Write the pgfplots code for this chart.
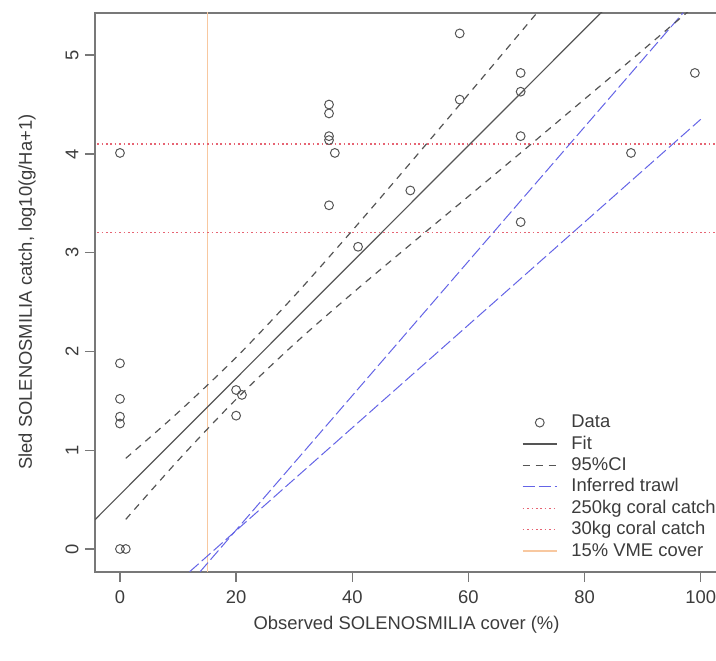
\documentclass[border=0pt]{standalone}
\usepackage{pgfplots}
\pgfplotsset{compat=1.18}
\usepackage{fontspec}
\setmainfont{Liberation Sans}
\definecolor{ptcol}{RGB}{85,85,85}
\definecolor{boxcol}{RGB}{120,120,120}
\definecolor{txtcol}{RGB}{60,60,60}
\definecolor{trawl}{RGB}{100,100,230}
\definecolor{redl}{RGB}{230,100,115}
\definecolor{orng}{RGB}{248,200,160}
\begin{document}
\fontsize{9.2}{11}\selectfont
\begin{tikzpicture}
\useasboundingbox (0,0) rectangle (358pt,330pt);
\begin{axis}[
  at={(47.5pt,44.15pt)}, anchor=south west,
  scale only axis, width=311.55pt, height=279.5pt,
  xmin=-4.3, xmax=103, ymin=-0.23, ymax=5.43,
  xtick={0,20,40,60,80,100}, ytick={0,1,2,3,4,5},
  tick align=outside, major tick length=5pt,
  axis line style={boxcol, line width=0.9pt},
  tick style={boxcol, line width=0.7pt},
  xtick pos=bottom, ytick pos=left,
  /pgf/number format/assume math mode=true,
  ticklabel style={font=\fontsize{9.2}{11}\selectfont, text=txtcol},
  yticklabel style={rotate=90, anchor=south},
  xticklabel style={yshift=-1pt},
  xlabel={Observed SOLENOSMILIA cover (\%)},
  ylabel={Sled SOLENOSMILIA catch, log10(g/Ha+1)},
  ylabel style={xshift=0pt, yshift=8.5pt},
  label style={font=\fontsize{9.2}{11}\selectfont, text=txtcol},
  clip=true,
  legend cell align=left,
  legend style={draw=none, fill=none, at={(0.6848,0.2853)}, anchor=north west,
    inner sep=0pt, row sep=0.7pt, column sep=7pt,
    font=\fontsize{9.2}{11}\selectfont,
    nodes={inner sep=0pt, text height=7.5pt, text depth=2.5pt}},
]
% legend entries
\addlegendimage{only marks, mark=o, mark size=2.2pt, draw=ptcol, mark options={line width=0.5pt}}
\addlegendentry{\textcolor{txtcol}{Data}}
\addlegendimage{draw=ptcol, line width=0.6pt}
\addlegendentry{\textcolor{txtcol}{Fit}}
\addlegendimage{draw=ptcol, line width=0.6pt, dash pattern=on 3.5pt off 3pt}
\addlegendentry{\textcolor{txtcol}{95\%CI}}
\addlegendimage{draw=trawl, line width=0.5pt, dash pattern=on 6pt off 2pt}
\addlegendentry{\textcolor{txtcol}{Inferred trawl}}
\addlegendimage{draw=redl, line width=0.6pt, dash pattern=on 0.8pt off 1.4pt}
\addlegendentry{\textcolor{txtcol}{250kg coral catch}}
\addlegendimage{draw=redl, line width=0.6pt, dash pattern=on 0.8pt off 1.4pt}
\addlegendentry{\textcolor{txtcol}{30kg coral catch}}
\addlegendimage{draw=orng, line width=0.6pt}
\addlegendentry{\textcolor{txtcol}{15\% VME cover}}
% reference lines
\addplot[orng, line width=0.5pt, forget plot] coordinates {(15,-1) (15,6)};
\addplot[redl, line width=0.6pt, dash pattern=on 0.8pt off 1.4pt, forget plot] coordinates {(-10,4.10) (110,4.10)};
\addplot[redl, line width=0.6pt, dash pattern=on 0.8pt off 1.4pt, forget plot] coordinates {(-10,3.205) (110,3.205)};
% inferred trawl
\addplot[trawl, line width=0.5pt, dash pattern=on 6pt off 2pt, forget plot] coordinates {(13.8,-0.23) (97,5.43)};
\addplot[trawl, line width=0.5pt, dash pattern=on 6pt off 2pt, forget plot] coordinates {(12.0,-0.23) (100,4.35)};
% fit and CI
\addplot[ptcol, line width=0.6pt, forget plot] coordinates {(-4.3,0.297) (84,5.498)};
\addplot[ptcol, line width=0.6pt, dash pattern=on 3.5pt off 3pt, forget plot, smooth] coordinates {
(1,0.918) (10,1.382) (20,1.940) (30,2.560) (40,3.224) (50,3.909) (60,4.603) (70,5.302) (75,5.652)};
\addplot[ptcol, line width=0.6pt, dash pattern=on 3.5pt off 3pt, forget plot, smooth] coordinates {
(1,0.300) (10,0.896) (20,1.516) (30,2.074) (40,2.588) (50,3.082) (60,3.570) (70,4.060) (80,4.555) (90,5.050) (100,5.550)};
% data
\addplot[only marks, mark=o, mark size=2.2pt, ptcol, mark options={line width=0.5pt}, forget plot] table {
x y
0 4.01
0 1.88
0 1.52
0 1.34
0 1.27
0 0
1 0
20 1.61
21 1.56
20 1.35
36 4.50
36 4.41
36 4.18
36 4.14
37 4.01
36 3.48
41 3.06
50 3.63
58.5 5.22
58.5 4.55
69 4.82
69 4.63
69 4.18
69 3.31
88 4.01
99 4.82
};
\end{axis}
\end{tikzpicture}
\end{document}
